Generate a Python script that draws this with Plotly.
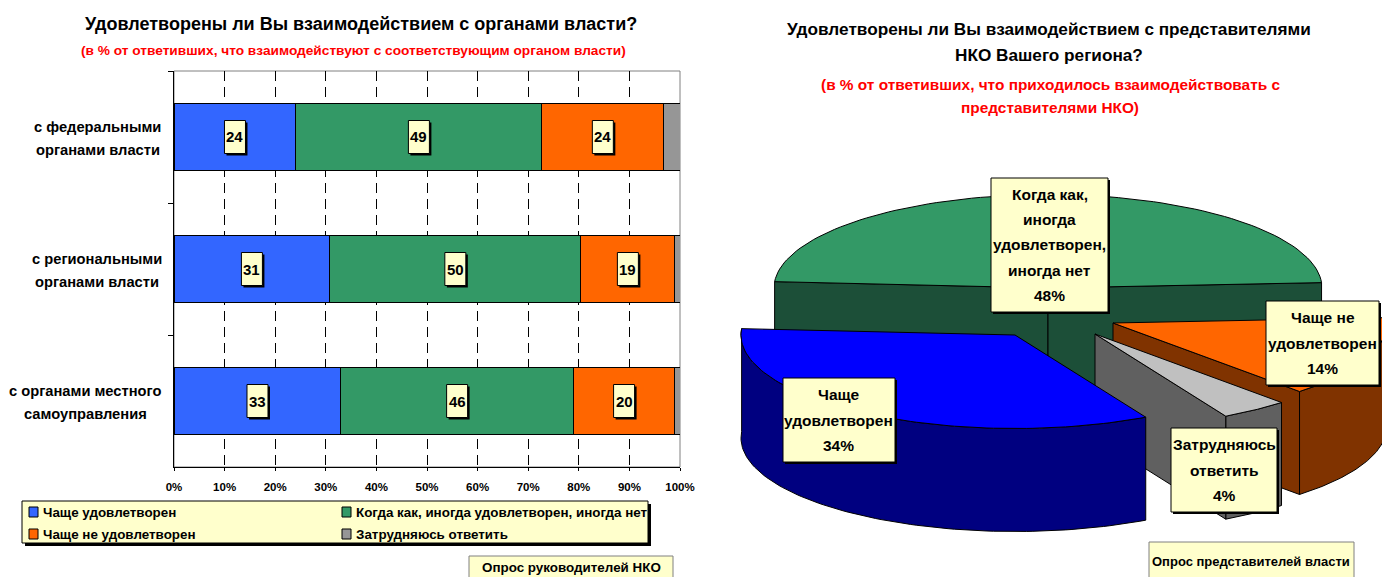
import numpy as np
import plotly.graph_objects as go

W, H = 1382, 577
FONT = "Liberation Sans"

# ---- data: stacked bars
bar_cats = ["с федеральными<br>органами власти", "с региональными<br>органами власти", "с органами местного<br>самоуправления"]
bar_names = ["Чаще удовлетворен", "Когда как, иногда удовлетворен, иногда нет", "Чаще не удовлетворен", "Затрудняюсь ответить"]
sat_often = [24.1, 30.8, 33.0]
sat_mixed = [48.6, 49.6, 45.9]
unsat_often = [24.1, 18.6, 20.1]
hard_to_say = [3.2, 1.0, 1.0]
bar_series = [sat_often, sat_mixed, unsat_often, hard_to_say]
bar_colors = ["#3366FF", "#339966", "#FF6600", "#969696"]
x_ticks = list(range(0, 101, 10))
x_tick_labels = [f"{v}%" for v in x_ticks]

# ---- data: exploded 3D pie (in drawing order round the pie)
pie_names = ["Чаще<br>удовлетворен", "Когда как,<br>иногда<br>удовлетворен,<br>иногда нет", "Чаще не<br>удовлетворен", "Затрудняюсь<br>ответить"]
pie_values = [34, 48, 14, 4]


def px(x):
    return x / W


def py(y):
    return 1 - y / H


fig = go.Figure()
shapes = []
annotations = []


def text(x, y, s, size, color="black", xref="paper", yref="paper", yshift=0):
    annotations.append(dict(
        x=px(x) if xref == "paper" else x, y=py(y) if yref == "paper" else y,
        xref=xref, yref=yref, yshift=yshift, text=s, showarrow=False, align="center",
        xanchor="center", yanchor="middle",
        font=dict(family=FONT, size=size, color=color, weight=700)))


def box(x0, y0, x1, y1, shadow=3, line="black"):
    if shadow:
        shapes.append(dict(type="rect", xref="paper", yref="paper", layer="above",
                           x0=px(x0 + shadow), x1=px(x1 + shadow), y0=py(y0 + shadow), y1=py(y1 + shadow),
                           fillcolor="black", line=dict(width=0)))
    shapes.append(dict(type="rect", xref="paper", yref="paper", layer="above",
                       x0=px(x0), x1=px(x1), y0=py(y0), y1=py(y1),
                       fillcolor="#FFFFCC", line=dict(color=line, width=1)))


# ---- bars
for name, vals, col in zip(bar_names, bar_series, bar_colors):
    fig.add_trace(go.Bar(y=bar_cats, x=vals, name=name, orientation="h", showlegend=False,
                         marker=dict(color=col, line=dict(color="black", width=1)),
                         xaxis="x", yaxis="y", hovertemplate="%{y}: %{x}<extra>" + name + "</extra>"))

cat_centers = [98, 97, 85]
for i, cat in enumerate(bar_cats):
    for ln, dy in zip(cat.split("<br>"), (10, -13)):
        text(cat_centers[i], 0, ln, 14.7, yref="y", yshift=dy)
        annotations[-1]["y"] = cat
    start = 0
    for s, vals in enumerate(bar_series[:3]):
        mid = start + vals[i] / 2
        start += vals[i]
        for w, h, off, fill, ln in ((21, 33, 2, "black", 0), (21, 33, 0, "#FFFFCC", 1)):
            shapes.append(dict(type="rect", xref="x", yref="y", layer="above",
                               xsizemode="pixel", ysizemode="pixel", xanchor=mid, yanchor=cat,
                               x0=-w / 2 + off, x1=w / 2 + off, y0=-h / 2 - off, y1=h / 2 - off,
                               fillcolor=fill, line=dict(color="black", width=ln)))
        text(mid, cat, f"{vals[i]:.0f}", 15, xref="x", yref="y")

# grey top/right frame of the plot area
shapes.append(dict(type="rect", xref="x domain", yref="y domain", layer="below",
                   x0=0, x1=1, y0=0, y1=1, line=dict(color="#808080", width=1)))

# ---- pie: slices computed from values
A, B, DEPTH = 274, 93.5, 103
START = 61.5  # degrees on the ellipse; angles grow clockwise on screen
explode = [(1015, 335), (1048, 288), (1113, 323), (1095, 334)]
tops = ["#0000FF", "#339966", "#FF6600", "#C0C0C0"]
walls = ["#000080", "#1C4F38", "#803300", "#606060"]

ends = START + np.cumsum(pie_values) * 3.6
starts = np.concatenate([[START], ends[:-1]])


def arc(c, t0, t1, dy=0):
    t = np.radians(np.linspace(t0, t1, 90))
    return c[0] + A * np.cos(t), c[1] + B * np.sin(t) + dy


def poly(xs, ys, color, name):
    fig.add_trace(go.Scatter(x=np.r_[xs, xs[0]], y=np.r_[ys, ys[0]], mode="lines", fill="toself",
                             fillcolor=color, line=dict(color="black", width=1), name=name,
                             showlegend=False, hoverinfo="name", xaxis="x2", yaxis="y2"))


def side(c, t, color, name):
    ex, ey = arc(c, t, t)
    ex, ey = ex[0], ey[0]
    poly(np.array([c[0], ex, ex, c[0]]), np.array([c[1], ey, ey + DEPTH, c[1] + DEPTH]), color, name)


def outer(c, t0, t1, color, name):
    x0, y0 = arc(c, t0, t1)
    x1, y1 = arc(c, t1, t0, DEPTH)
    poly(np.r_[x0, x1], np.r_[y0, y1], color, name)


def top(c, t0, t1, color, name):
    x, y = arc(c, t0, t1)
    poly(np.r_[c[0], x], np.r_[c[1], y], color, name)


for idx in (1, 2, 3, 0):          # back to front
    c = explode[idx]
    t0, t1 = starts[idx], ends[idx]
    name = pie_names[idx].replace("<br>", " ") + f" {pie_values[idx]}%"
    if idx == 1:
        side(c, t0, walls[idx], name)
        side(c, t1, walls[idx], name)
    elif idx == 2:
        outer(c, 360, t1, walls[idx], name)
        side(c, t1, walls[idx], name)
    elif idx == 3:
        outer(c, t0, t1, walls[idx], name)
        side(c, t1, walls[idx], name)
    else:
        outer(c, t0, t1, walls[idx], name)
    top(c, t0, t1, tops[idx], name)

# pie labels, one annotation per line to match the open line spacing
pie_boxes = [(783, 378, 895, 462), (991, 178, 1108, 312), (1266, 301, 1379, 385), (1171, 428, 1277, 512)]
for idx, (x0, y0, x1, y1) in enumerate(pie_boxes):
    box(x0, y0, x1, y1, shadow=2)
    lines = pie_names[idx].split("<br>") + [f"{pie_values[idx]}%"]
    step = 25.3
    first = (y0 + y1) / 2 - step * (len(lines) - 1) / 2
    for k, ln in enumerate(lines):
        text((x0 + x1) / 2, first + k * step, ln, 15.5)

# ---- titles
text(361, 24, "Удовлетворены ли Вы взаимодействием с органами власти?", 18)
text(353, 50, "(в % от ответивших, что взаимодействуют с соответствующим органом власти)", 13.7, "#FF0000")
text(1049, 29, "Удовлетворены ли Вы взаимодействием с представителями", 17.2)
text(1049, 55, "НКО Вашего региона?", 17.2)
text(1050, 84, "(в % от ответивших, что приходилось взаимодействовать с", 15.4, "#FF0000")
text(1050, 108, "представителями НКО)", 15.4, "#FF0000")

# ---- legend, drawn as a box with two rows of two entries
box(22, 501, 648, 543, shadow=3)
leg_pos = [(29, 512), (342, 512), (29, 534), (342, 534)]
for (lx, ly), name, col in zip(leg_pos, bar_names, bar_colors):
    shapes.append(dict(type="rect", xref="paper", yref="paper", layer="above",
                       x0=px(lx), x1=px(lx + 9), y0=py(ly - 5), y1=py(ly + 5),
                       fillcolor=col, line=dict(color="black", width=1)))
    annotations.append(dict(x=px(lx + 12), y=py(ly), xref="paper", yref="paper", text=name,
                            showarrow=False, xanchor="left", yanchor="middle",
                            font=dict(family=FONT, size=13.4, color="black", weight=700)))

# ---- survey notes
box(469, 556, 673, 590, shadow=0, line="#808080")
text(571, 567, "Опрос руководителей НКО", 13.4)
box(1149, 542, 1354, 590, shadow=0, line="#808080")
text(1251, 561, "Опрос представителей власти", 13)

fig.update_layout(
    width=W, height=H, margin=dict(l=0, r=0, t=0, b=0, autoexpand=False),
    paper_bgcolor="white", plot_bgcolor="white", barmode="stack", bargap=0.49,
    shapes=shapes, annotations=annotations, showlegend=False,
    font=dict(family=FONT, color="black"),
    xaxis=dict(domain=[px(174), px(680)], range=[0, 100], tickvals=x_ticks, ticktext=x_tick_labels,
               tickfont=dict(family=FONT, size=11.5, weight=700), ticks="outside", ticklen=3, tickcolor="black",
               ticklabelstandoff=6,
               showgrid=True, gridcolor="black", griddash="10px,6px", gridwidth=1, showline=True,
               linecolor="black", linewidth=1, zeroline=False, anchor="y"),
    yaxis=dict(domain=[py(467), py(71)], autorange=False, range=[2.5, -0.5], type="category",
               tickson="boundaries", ticks="outside", ticklen=5, tickcolor="black", showgrid=False,
               showticklabels=False, showline=True, linecolor="black", linewidth=1, anchor="x"),
    xaxis2=dict(domain=[px(691), 1], range=[691, 1382], visible=False, anchor="y2"),
    yaxis2=dict(domain=[0, 1], range=[577, 0], visible=False, anchor="x2"),
)

fig.write_html("out.html", config={"displayModeBar": False},
               post_script="document.body.style.margin='0';document.documentElement.style.overflow='hidden';")
